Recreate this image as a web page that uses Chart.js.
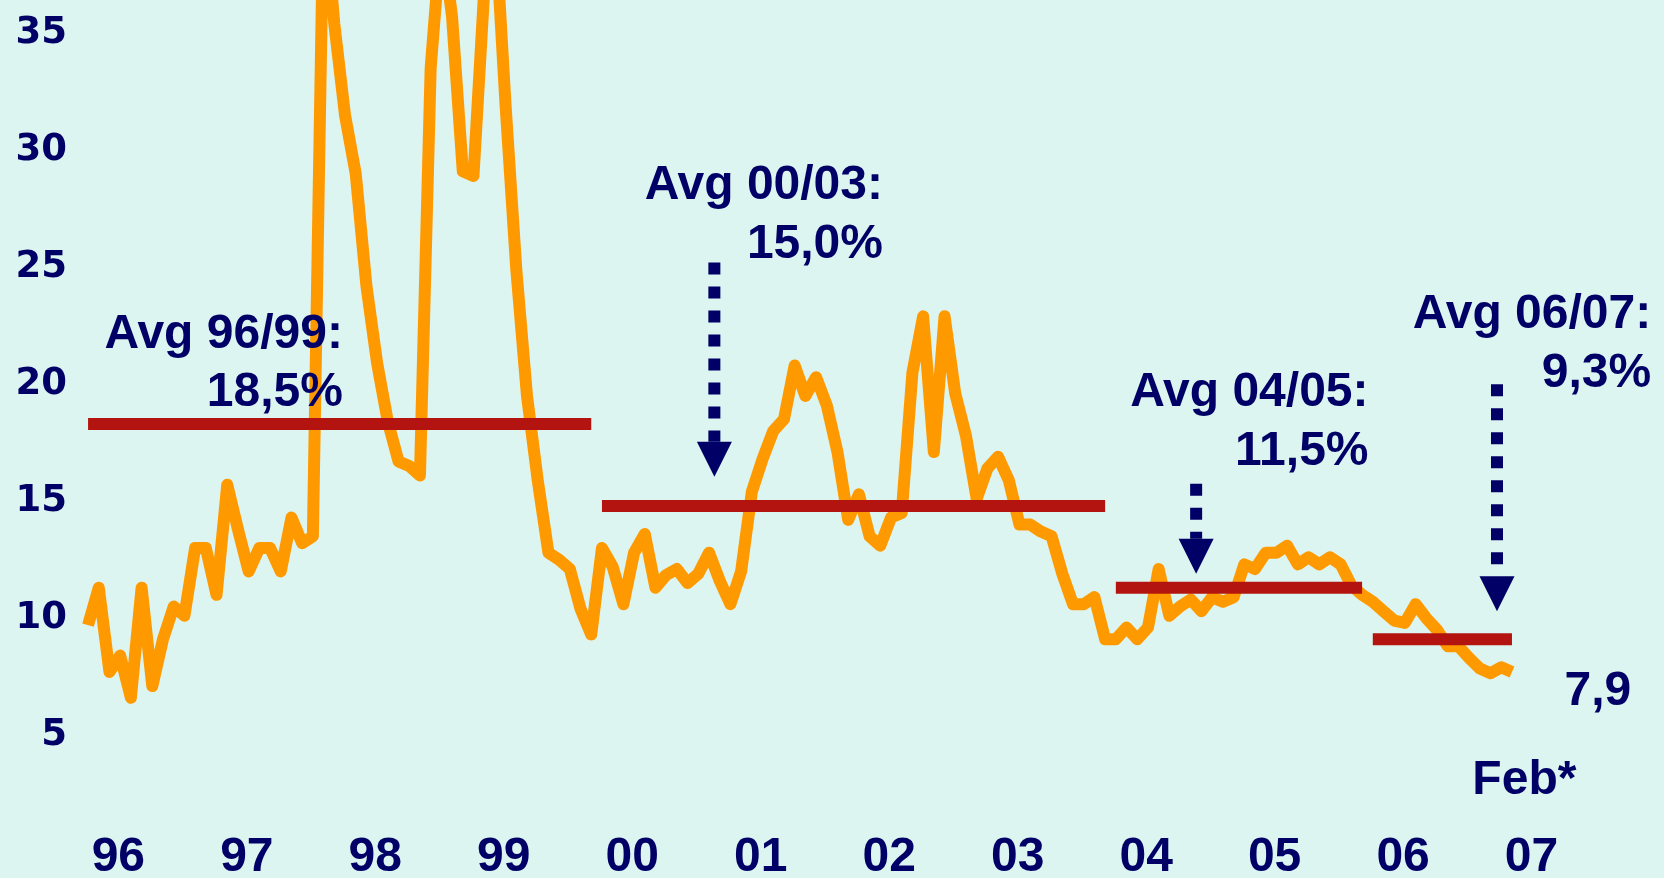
<!DOCTYPE html>
<html>
<head>
<meta charset="utf-8">
<script src="https://cdn.jsdelivr.net/npm/chart.js@4.4.1/dist/chart.umd.min.js"></script>
<style>
  html, body { margin: 0; padding: 0; background: #DCF5F0; }
  #wrap { width: 1664px; height: 878px; position: relative; }
</style>
</head>
<body>
<div id="wrap"><canvas id="chart"></canvas></div>
<script>
// Monthly rate, % — index 0 = Jan 1996, last point = Feb 2007
const rate = [
  9.9, 11.5, 7.9, 8.6, 6.8, 11.5, 7.3, 9.3, 10.7, 10.3, 13.2, 13.2,      // 1996
  11.2, 15.9, 14.0, 12.2, 13.2, 13.2, 12.2, 14.5, 13.4, 13.7, 41.0, 35.6, // 1997
  31.7, 29.2, 24.4, 21.1, 18.6, 16.9, 16.7, 16.3, 33.7, 39.5, 35.9, 29.3, // 1998
  29.1, 37.0, 40.0, 32.1, 25.1, 19.7, 16.1, 13.0, 12.7, 12.3, 10.6, 9.5,  // 1999
  13.2, 12.4, 10.8, 13.0, 13.8, 11.5, 12.05, 12.3, 11.7, 12.1, 13.0, 11.8, // 2000
  10.8, 12.2, 15.6, 17.0, 18.2, 18.7, 21.0, 19.7, 20.5, 19.3, 17.3, 14.4, // 2001
  15.5, 13.7, 13.3, 14.5, 14.7, 20.7, 23.1, 17.3, 23.1, 19.8, 18.0, 15.3, // 2002
  16.6, 17.1, 16.1, 14.2, 14.2, 13.9, 13.7, 12.1, 10.8, 10.8, 11.1, 9.3,  // 2003
  9.3, 9.8, 9.3, 9.8, 12.3, 10.3, 10.7, 11.0, 10.5, 11.1, 10.9, 11.1,     // 2004
  12.5, 12.3, 13.0, 13.0, 13.3, 12.5, 12.8, 12.5, 12.8, 12.5, 11.6, 11.2, // 2005
  10.9, 10.5, 10.1, 10.0, 10.8, 10.2, 9.7, 9.0, 9.0, 8.5, 8.05, 7.85,     // 2006
  8.1, 7.9                                                                // 2007
];

// Year axis labels
const yearLabels = ['96', '97', '98', '99', '00', '01', '02', '03', '04', '05', '06', '07'];
// Value axis labels
const yTicks = [5, 10, 15, 20, 25, 30, 35];

// Period averages: name, value (%), first and last month index
const avgNames = ['Avg 96/99:', 'Avg 00/03:', 'Avg 04/05:', 'Avg 06/07:'];
const avgValues = [18.5, 15.0, 11.5, 9.3];
const avgStart = [0, 48, 96, 120];
const avgEnd = [47, 95, 119, 133];

const lastLabel = 'Feb*';

// ---- styling / layout ----
const NAVY = '#000066';
const ORANGE = '#FF9900';
const RED = '#B4140F';
const NOTE_FONT = 'bold 48px "Liberation Sans", Arial, sans-serif';
const NOTE_LINE_GAP = 58.5;

// where each average's caption sits (month, value of first baseline)
const avgNoteAnchor = [
  { month: 23.8, value: 21.75 },
  { month: 74.25, value: 28.1 },
  { month: 119.6, value: 19.25 },
  { month: 146.0, value: 22.6 }
];
// dotted arrows pointing at the average lines
const avgArrows = [
  null,
  { month: 58.5, from: 25.4, to: 16.25 },
  { month: 103.5, from: 15.95, to: 12.1 },
  { month: 131.6, from: 20.2, to: 10.5 }
];
const lastValueAnchor = { month: 137.9, value: 6.5 };
const lastLabelAnchor = { month: 129.3, value: 2.7 };

const fmt = v => v.toFixed(1).replace('.', ',');

const datasets = [];
avgValues.forEach((v, k) => {
  datasets.push({
    data: [{ x: avgStart[k], y: v }, { x: avgEnd[k], y: v }],
    borderColor: RED,
    borderWidth: 12,
    borderCapStyle: 'butt',
    pointRadius: 0,
    order: 0
  });
});
datasets.push({
  data: rate.map((v, i) => ({ x: i, y: v })),
  borderColor: ORANGE,
  borderWidth: 12,
  borderJoinStyle: 'round',
  borderCapStyle: 'butt',
  tension: 0,
  pointRadius: 0,
  order: 1
});

const notesPlugin = {
  id: 'periodNotes',
  afterDraw(chart) {
    const { ctx } = chart;
    const xs = chart.scales.x, ys = chart.scales.y;
    ctx.save();
    ctx.fillStyle = NAVY;
    ctx.strokeStyle = NAVY;
    ctx.font = NOTE_FONT;
    ctx.textBaseline = 'alphabetic';

    avgValues.forEach((v, k) => {
      const a = avgNoteAnchor[k];
      const px = xs.getPixelForValue(a.month);
      const py = ys.getPixelForValue(a.value);
      ctx.textAlign = 'right';
      ctx.fillText(avgNames[k], px, py);
      ctx.fillText(fmt(v) + '%', px, py + NOTE_LINE_GAP);

      const arr = avgArrows[k];
      if (arr) {
        const ax = xs.getPixelForValue(arr.month);
        const top = ys.getPixelForValue(arr.from);
        const tip = ys.getPixelForValue(arr.to);
        const base = tip - 35;
        ctx.lineWidth = 12;
        ctx.lineCap = 'butt';
        ctx.setLineDash([12, 12]);
        ctx.beginPath();
        ctx.moveTo(ax, top);
        ctx.lineTo(ax, base);
        ctx.stroke();
        ctx.setLineDash([]);
        ctx.beginPath();
        ctx.moveTo(ax - 17.5, base);
        ctx.lineTo(ax + 17.5, base);
        ctx.lineTo(ax, tip);
        ctx.closePath();
        ctx.fill();
      }
    });

    ctx.textAlign = 'left';
    ctx.fillText(fmt(rate[rate.length - 1]),
      xs.getPixelForValue(lastValueAnchor.month), ys.getPixelForValue(lastValueAnchor.value));
    ctx.fillText(lastLabel,
      xs.getPixelForValue(lastLabelAnchor.month), ys.getPixelForValue(lastLabelAnchor.value));
    ctx.restore();
  }
};

new Chart(document.getElementById('chart'), {
  type: 'line',
  data: { datasets },
  options: {
    responsive: true,
    maintainAspectRatio: false,
    animation: false,
    events: [],
    layout: { padding: 0 },
    plugins: { legend: { display: false }, tooltip: { enabled: false } },
    scales: {
      x: {
        type: 'linear',
        min: -1.5,
        max: 147.2,
        grid: { display: false, drawTicks: false },
        border: { display: false },
        afterBuildTicks: s => { s.ticks = yearLabels.map((_, k) => ({ value: 12 * k + 2.83 })); },
        afterFit: s => { s.height = 78; s.paddingLeft = 0; s.paddingRight = 0; },
        ticks: {
          autoSkip: false,
          maxRotation: 0,
          padding: 29,
          color: NAVY,
          font: { family: '"Liberation Sans", Arial, sans-serif', weight: 'bold', size: 48 },
          callback: (v, i) => yearLabels[i]
        }
      },
      y: {
        min: 2.43,
        max: 36.62,
        grid: { display: false, drawTicks: false },
        border: { display: false },
        afterBuildTicks: s => { s.ticks = yTicks.map(v => ({ value: v })); },
        afterFit: s => { s.width = 72; s.paddingTop = 0; s.paddingBottom = 0; },
        ticks: {
          autoSkip: false,
          padding: 5,
          color: NAVY,
          font: { family: '"DejaVu Sans", Verdana, sans-serif', weight: 'bold', size: 37, lineHeight: '9px' },
          callback: v => [String(v), '']
        }
      }
    }
  },
  plugins: [notesPlugin]
});
</script>
</body>
</html>
